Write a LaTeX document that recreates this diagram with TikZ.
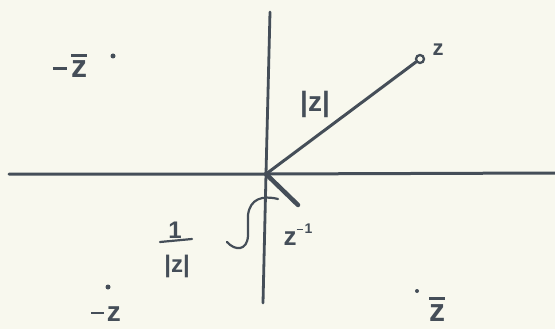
\documentclass[tikz,border=0pt]{standalone}
\usepackage{fontspec}
\setmainfont{Liberation Sans}
\newcommand{\zbr}{\leavevmode\rlap{\raisebox{0.66em}{\rule{0.5em}{0.09em}}}z}
\newcommand{\mns}{\rule[0.26em]{0.45em}{0.09em}\hspace{0.12em}}
\begin{document}
\begin{tikzpicture}[x=1pt,y=-1pt,
  ink/.style={draw=inkc, line cap=round, line join=round},
  lbl/.style={text=inkc, inner sep=0pt, font=\fontsize{26}{28}\selectfont\bfseries},
  dotp/.style={circle, fill=inkc, inner sep=0pt, minimum size=5pt}]
\definecolor{inkc}{HTML}{454E58}
\definecolor{paper}{HTML}{F8F8EE}
\fill[paper] (0,0) rectangle (555,329);
\useasboundingbox (0,0) rectangle (555,329);
% axes
\coordinate (o) at (266,174);
\coordinate (xl) at (9,174);
\coordinate (xr) at (555,173);
\coordinate (yt) at (270,12);
\coordinate (yb) at (263,303);
\draw[ink, line width=3pt] (xl) -- (o) -- (xr);
\draw[ink, line width=2.8pt] (yt) -- (o) -- (yb);
% z
\node[circle, draw=inkc, line width=2.3pt, fill=paper, minimum size=8pt, inner sep=0pt] (zpt) at (420,59) {};
\draw[ink, line width=3pt] (o) -- (zpt);
\node[lbl, font=\fontsize{22}{24}\selectfont\bfseries] (zl) at (438,50) {z};
\node[lbl, font=\fontsize{28}{30}\selectfont\bfseries] (absz) at (315,104) {|z|};
% z inverse
\coordinate (zinv) at (298,205);
\draw[ink, line width=4.5pt] (o) -- (zinv);
\node[lbl] (zinvl) at (298,235) {z\raisebox{0.45em}{\fontsize{14}{14}\selectfont\mns1}};
% brace
\draw[ink, line width=2.2pt] (278,199) .. controls (262,195) and (250,199) .. (248,215) -- (248,236) .. controls (247,251) and (235,251) .. (227,242);
\node[lbl, font=\fontsize{24}{26}\selectfont\bfseries] (one) at (175,230) {1};
\node[lbl, font=\fontsize{24}{26}\selectfont\bfseries] (den) at (177,266) {|z|};
\draw[ink, line width=2.2pt] (160,242) -- (192,239);
% other points
\node[dotp] (mzb) at (113,56) {};
\node[lbl, font=\fontsize{32}{34}\selectfont\bfseries] (mzbl) at (70,66) {\mns\zbr};
\node[dotp] (mz) at (108,287) {};
\node[lbl, font=\fontsize{28}{30}\selectfont\bfseries] (mzl) at (106,314) {\mns z};
\node[dotp, minimum size=4pt] (zb) at (417,291) {};
\node[lbl, font=\fontsize{32}{34}\selectfont\bfseries] (zbl) at (437,309) {\zbr};
\end{tikzpicture}
\end{document}
